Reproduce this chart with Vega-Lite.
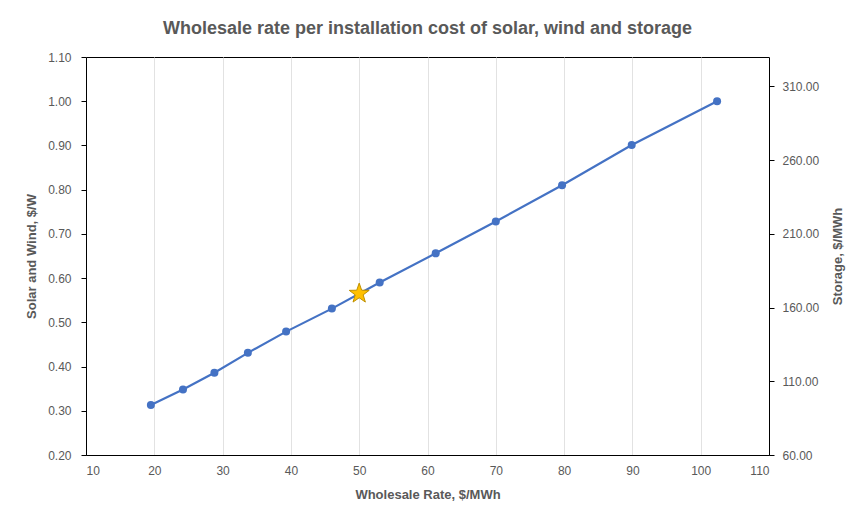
{
  "$schema": "https://vega.github.io/schema/vega-lite/v6.json",
  "autosize": "none",
  "width": 683,
  "height": 398,
  "padding": {"left": 86, "top": 57, "right": 96, "bottom": 66},
  "background": "white",
  "title": {
    "text": "Wholesale rate per installation cost of solar, wind and storage",
    "font": "Liberation Sans",
    "fontSize": 18,
    "fontWeight": "bold",
    "color": "#595959",
    "anchor": "middle",
    "offset": 13
  },
  "config": {
    "view": {"stroke": "#000000", "strokeWidth": 1},
    "axis": {
      "labelFont": "Liberation Sans",
      "labelFontSize": 12,
      "labelColor": "#595959",
      "titleFont": "Liberation Sans",
      "titleFontSize": 13,
      "titleFontWeight": "bold",
      "titleColor": "#595959",
      "domainColor": "#000000",
      "tickColor": "#000000"
    }
  },
  "datasets": {
    "rates": [
      {"rate": 19.5, "cost": 0.313},
      {"rate": 24.2, "cost": 0.348},
      {"rate": 28.8, "cost": 0.386},
      {"rate": 33.7, "cost": 0.431},
      {"rate": 39.3, "cost": 0.479},
      {"rate": 46.0, "cost": 0.531},
      {"rate": 53.0, "cost": 0.590},
      {"rate": 61.2, "cost": 0.656},
      {"rate": 70.0, "cost": 0.728},
      {"rate": 79.7, "cost": 0.810},
      {"rate": 89.9, "cost": 0.901},
      {"rate": 102.4, "cost": 1.000}
    ],
    "target": [
      {"rate": 50.0, "cost": 0.565}
    ]
  },
  "layer": [
    {
      "encoding": {
        "x": {
          "field": "rate",
          "type": "quantitative",
          "scale": {"domain": [10, 110], "nice": false},
          "axis": {
            "title": "Wholesale Rate, $/MWh",
            "orient": "bottom",
            "values": [10, 20, 30, 40, 50, 60, 70, 80, 90, 100, 110],
            "grid": true,
            "gridColor": "#E2E2E2",
            "ticks": false,
            "labelPadding": 10,
            "titlePadding": 12
          }
        },
        "y": {
          "field": "cost",
          "type": "quantitative",
          "scale": {"domain": [0.2, 1.1], "nice": false, "zero": false},
          "axis": {
            "title": "Solar and Wind, $/W",
            "orient": "left",
            "values": [0.2, 0.3, 0.4, 0.5, 0.6, 0.7, 0.8, 0.9, 1.0, 1.1],
            "format": ".2f",
            "grid": false,
            "tickSize": 5,
            "labelPadding": 10,
            "titlePadding": 9
          }
        }
      },
      "layer": [
        {
          "data": {"name": "rates"},
          "mark": {"type": "line", "color": "#4472C4", "strokeWidth": 2.2}
        },
        {
          "data": {"name": "rates"},
          "mark": {"type": "point", "filled": true, "shape": "circle", "size": 64, "color": "#4472C4", "opacity": 1}
        },
        {
          "data": {"name": "target"},
          "mark": {
            "type": "point",
            "shape": "M0,-1L0.235,-0.324L0.951,-0.309L0.38,0.124L0.588,0.809L0,0.4L-0.588,0.809L-0.38,0.124L-0.951,-0.309L-0.235,-0.324Z",
            "filled": true,
            "size": 440,
            "fill": "#FFC000",
            "stroke": "#BF9000",
            "strokeWidth": 1,
            "opacity": 1
          }
        }
      ]
    },
    {
      "data": {"name": "target"},
      "mark": {"type": "rule", "strokeOpacity": 0},
      "encoding": {
        "y": {
          "datum": 60,
          "type": "quantitative",
          "scale": {"domain": [60, 330], "nice": false, "zero": false},
          "axis": {
            "orient": "right",
            "title": "Storage, $/MWh",
            "titleAngle": 270,
            "values": [60, 110, 160, 210, 260, 310],
            "format": ".2f",
            "grid": false,
            "tickSize": 5,
            "labelPadding": 8,
            "titlePadding": 26
          }
        }
      }
    }
  ],
  "resolve": {"scale": {"y": "independent"}, "axis": {"y": "independent"}}
}
